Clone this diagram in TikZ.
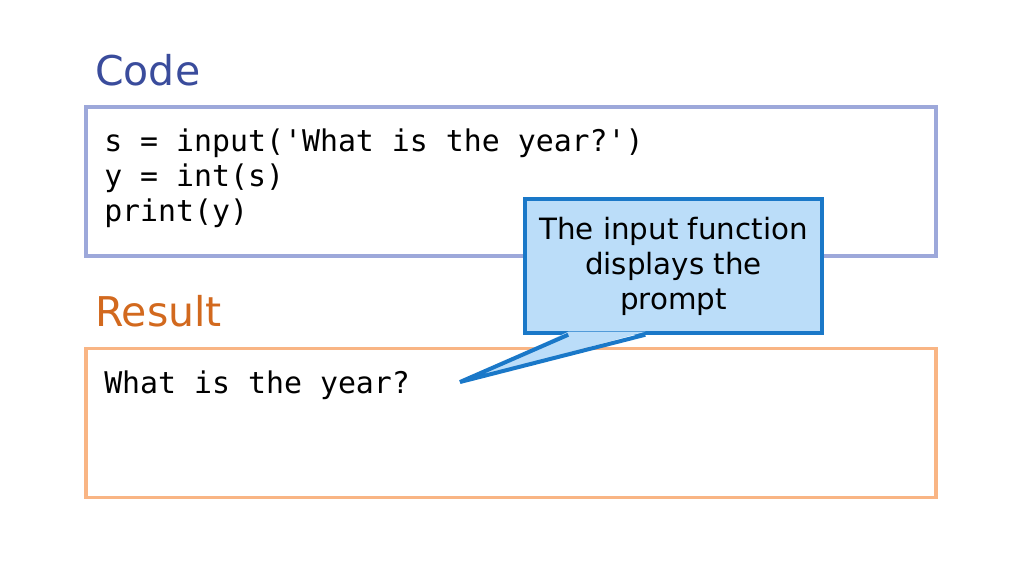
\documentclass[tikz,border=0pt]{standalone}
\usepackage{fontspec}
\setmainfont{DejaVu Sans}
\setmonofont{DejaVu Sans Mono}
\usepackage{tikz}
\usetikzlibrary{positioning, calc}

\definecolor{codeline}{HTML}{9DA8DA}
\definecolor{codetitle}{HTML}{3A4C9C}
\definecolor{resline}{HTML}{F9B584}
\definecolor{restitle}{HTML}{D2691E}
\definecolor{notefill}{HTML}{BBDDF9}
\definecolor{noteline}{HTML}{1A78C8}

\begin{document}
\begin{tikzpicture}[x=0.75pt, y=-0.75pt]
\tikzstyle{panel} = [rectangle, draw, line width=2.6pt, inner sep=0pt, minimum width=637.5pt, minimum height=111.75pt]
\tikzstyle{title} = [anchor=base west, inner sep=0pt, font=\fontsize{30.75}{36}\selectfont]
\tikzstyle{listing} = [anchor=base west, inner sep=0pt, align=left, font=\fontsize{22.4}{26.25}\selectfont\ttfamily]
\tikzstyle{notebox} = [rectangle, draw=noteline, fill=notefill, line width=2.6pt, minimum width=222.75pt, minimum height=100.5pt, align=center, font=\fontsize{22}{26.25}\selectfont]

\useasboundingbox (0,0) rectangle (1024,576);

\node (codehead) [title, text=codetitle] at (95,85) {Code};
\node (codebox) [panel, draw=codeline] at (511,181.5) {};
% base of a multi-line node sits on its last line
\node (codetext) [listing] at (104,221) {s = input('What is the year?')\\y = int(s)\\print(y)};

\node (reshead) [title, text=restitle] at (95,326) {Result};
\node (resbox) [panel, draw=resline] at (511,423) {};
\node (restext) [listing] at (104,393) {What is the year?};

\node (note) [notebox] at (673.5,266) {The input function\\displays the\\prompt};
\coordinate (tip) at (460,382);
\fill [notefill] ($(note.south west)+(45,-3)$) -- (tip) -- ($(note.south west)+(122,-3)$) -- cycle;
\draw [noteline, line width=3pt, line join=miter] ($(note.south west)+(45,0)$) -- (tip) -- ($(note.south west)+(122,0)$);
\end{tikzpicture}
\end{document}
